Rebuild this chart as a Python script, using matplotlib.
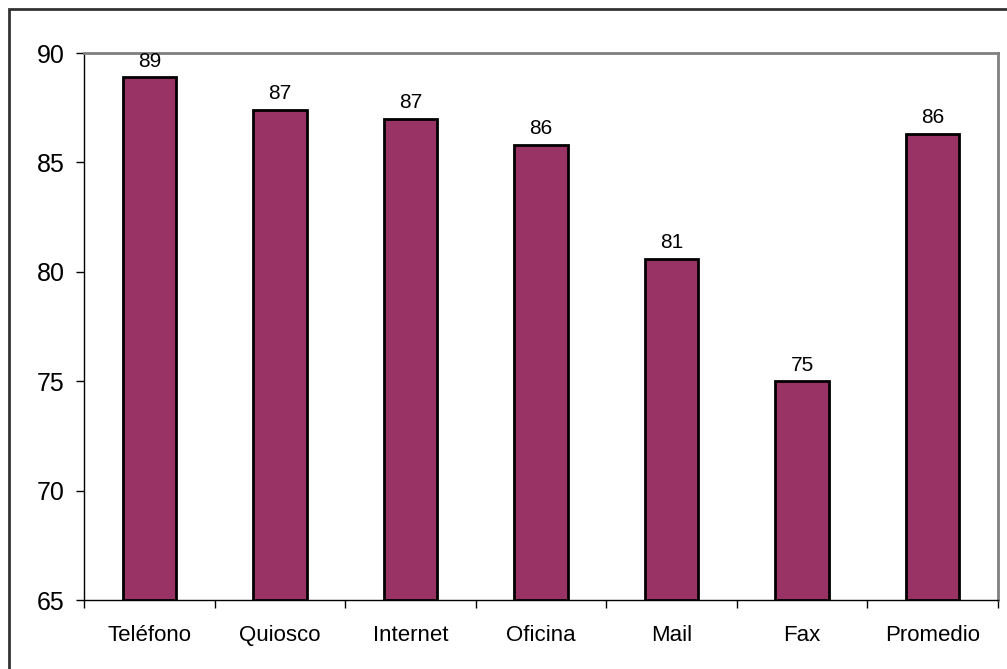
import matplotlib.pyplot as plt
from matplotlib.patches import Rectangle

plt.rcParams['font.family'] = ['Liberation Sans', 'DejaVu Sans']

categorias = ["Teléfono", "Quiosco", "Internet", "Oficina", "Mail", "Fax", "Promedio"]
valores = [88.9, 87.4, 87.0, 85.8, 80.6, 75.0, 86.3]
etiquetas = ["89", "87", "87", "86", "81", "75", "86"]

fig = plt.figure(figsize=(10.07, 6.69), dpi=100)
ax = fig.add_axes([84/1007, 69/669, 914/1007, 547/669])

x = range(len(categorias))
bars = ax.bar(x, [v - 65 for v in valores], bottom=65, width=0.41,
              color="#993366", edgecolor="black", linewidth=2)

for xi, v, t in zip(x, valores, etiquetas):
    ax.text(xi, v + 0.3, t, ha="center", va="bottom", fontsize=15)

ax.set_xlim(-0.5, len(categorias) - 0.5)
ax.set_ylim(65, 90)
ax.set_yticks([65, 70, 75, 80, 85, 90])
ax.tick_params(axis="y", labelsize=18, length=6, width=1, direction="out", pad=8)

ax.set_xticks(list(x))
ax.set_xticklabels(categorias, fontsize=16)
ax.tick_params(axis="x", which="major", length=0, pad=18)
ax.set_xticks([i - 0.5 for i in range(len(categorias) + 1)], minor=True)
ax.tick_params(axis="x", which="minor", length=6, width=1, direction="out")

for s in ["left", "bottom"]:
    ax.spines[s].set_color("black")
    ax.spines[s].set_linewidth(1)
for s in ["top", "right"]:
    ax.spines[s].set_color("#808080")
    ax.spines[s].set_linewidth(2)

# outer chart border
fig.patches.append(Rectangle((9/1007, -0.1), 1.2, (669 - 9)/669 + 0.1,
                             transform=fig.transFigure, fill=False,
                             edgecolor="#333333", linewidth=2))

fig.savefig("out.png", dpi=100)
